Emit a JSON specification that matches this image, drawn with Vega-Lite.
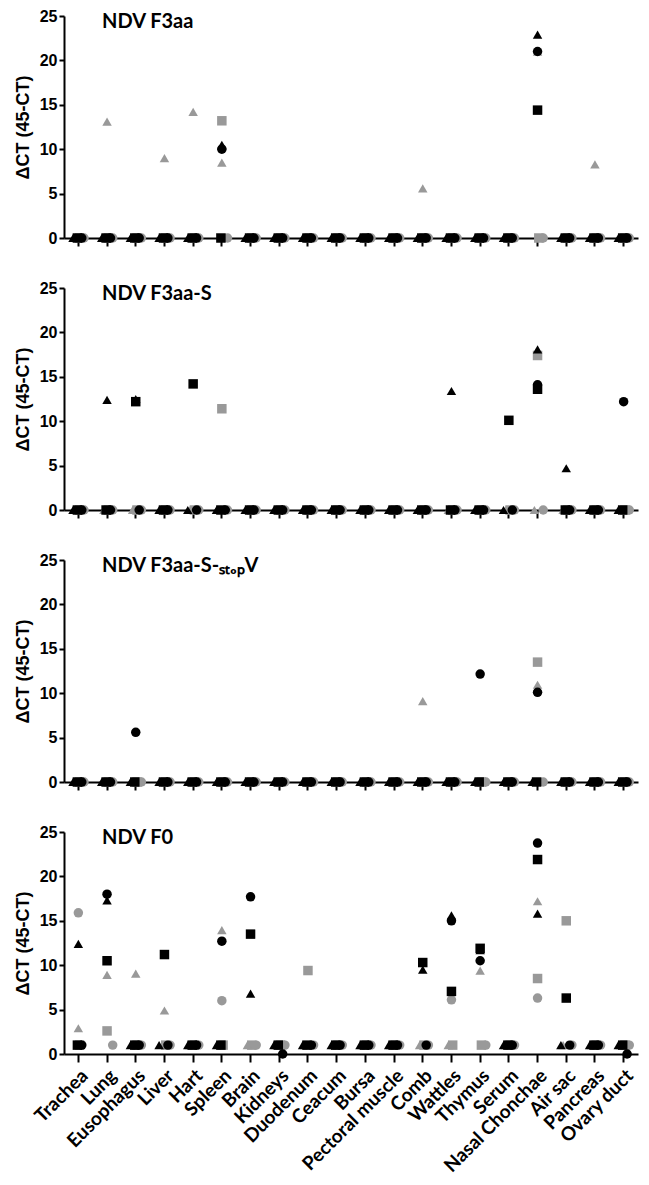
{
  "$schema": "https://vega.github.io/schema/vega-lite/v6.json",
  "padding": {"left": 14, "top": 8, "right": 5, "bottom": 5},
  "spacing": 33,
  "config": {
    "view": {"stroke": null},
    "axis": {"domainColor": "black", "tickColor": "black", "labelColor": "black", "titleColor": "black", "grid": false, "domainWidth": 2, "tickWidth": 2},
    "title": {"anchor": "start", "frame": "group", "offset": -24, "dx": 38, "baseline": "alphabetic", "fontSize": 20, "font": "Lato", "fontWeight": "bold", "color": "black"}
  },
  "datasets": {
    "ct": [
      {"panel": "A", "organ": "Trachea", "bc": 0, "bs": 0, "bt": 0, "gc": 0, "gs": 0, "gt": 0},
      {"panel": "A", "organ": "Lung", "bc": 0, "bs": 0, "bt": 0, "gc": 0, "gs": 0, "gt": 13.1},
      {"panel": "A", "organ": "Eusophagus", "bc": 0, "bs": 0, "bt": 0, "gc": 0, "gs": 0, "gt": 0},
      {"panel": "A", "organ": "Liver", "bc": 0, "bs": 0, "bt": 0, "gc": 0, "gs": 0, "gt": 9.0},
      {"panel": "A", "organ": "Hart", "bc": 0, "bs": 0, "bt": 0, "gc": 0, "gs": 0, "gt": 14.2},
      {"panel": "A", "organ": "Spleen", "bc": 10.0, "bs": 0, "bt": 10.5, "gc": 0, "gs": 13.2, "gt": 8.5},
      {"panel": "A", "organ": "Brain", "bc": 0, "bs": 0, "bt": 0, "gc": 0, "gs": 0, "gt": 0},
      {"panel": "A", "organ": "Kidneys", "bc": 0, "bs": 0, "bt": 0, "gc": 0, "gs": 0, "gt": 0},
      {"panel": "A", "organ": "Duodenum", "bc": 0, "bs": 0, "bt": 0, "gc": 0, "gs": 0, "gt": 0},
      {"panel": "A", "organ": "Ceacum", "bc": 0, "bs": 0, "bt": 0, "gc": 0, "gs": 0, "gt": 0},
      {"panel": "A", "organ": "Bursa", "bc": 0, "bs": 0, "bt": 0, "gc": 0, "gs": 0, "gt": 0},
      {"panel": "A", "organ": "Pectoral muscle", "bc": 0, "bs": 0, "bt": 0, "gc": 0, "gs": 0, "gt": 0},
      {"panel": "A", "organ": "Comb", "bc": 0, "bs": 0, "bt": 0, "gc": 0, "gs": 0, "gt": 5.6},
      {"panel": "A", "organ": "Wattles", "bc": 0, "bs": 0, "bt": 0, "gc": 0, "gs": 0, "gt": 0},
      {"panel": "A", "organ": "Thymus", "bc": 0, "bs": 0, "bt": 0, "gc": 0, "gs": 0, "gt": 0},
      {"panel": "A", "organ": "Serum", "bc": 0, "bs": 0, "bt": 0, "gc": 0, "gs": 0, "gt": 0},
      {"panel": "A", "organ": "Nasal Chonchae", "bc": 21.0, "bs": 14.4, "bt": 22.9, "gc": 0, "gs": 0, "gt": 21.0},
      {"panel": "A", "organ": "Air sac", "bc": 0, "bs": 0, "bt": 0, "gc": 0, "gs": 0, "gt": 0},
      {"panel": "A", "organ": "Pancreas", "bc": 0, "bs": 0, "bt": 0, "gc": 0, "gs": 0, "gt": 8.3},
      {"panel": "A", "organ": "Ovary duct", "bc": 0, "bs": 0, "bt": 0, "gc": 0, "gs": 0, "gt": 0},

      {"panel": "B", "organ": "Trachea", "bc": 0, "bs": 0, "bt": 0, "gc": 0, "gs": 0, "gt": 0},
      {"panel": "B", "organ": "Lung", "bc": 0, "bs": 0, "bt": 12.4, "gc": 0, "gs": 0, "gt": 0},
      {"panel": "B", "organ": "Eusophagus", "bc": 0, "bs": 12.2, "bt": 12.5, "gc": 0, "gs": 0, "gt": 0},
      {"panel": "B", "organ": "Liver", "bc": 0, "bs": 0, "bt": 0, "gc": 0, "gs": 0, "gt": 0},
      {"panel": "B", "organ": "Hart", "bc": 0, "bs": 14.2, "bt": 0, "gc": 0, "gs": 0, "gt": 0},
      {"panel": "B", "organ": "Spleen", "bc": 0, "bs": 0, "bt": 0, "gc": 0, "gs": 11.4, "gt": 0},
      {"panel": "B", "organ": "Brain", "bc": 0, "bs": 0, "bt": 0, "gc": 0, "gs": 0, "gt": 0},
      {"panel": "B", "organ": "Kidneys", "bc": 0, "bs": 0, "bt": 0, "gc": 0, "gs": 0, "gt": 0},
      {"panel": "B", "organ": "Duodenum", "bc": 0, "bs": 0, "bt": 0, "gc": 0, "gs": 0, "gt": 0},
      {"panel": "B", "organ": "Ceacum", "bc": 0, "bs": 0, "bt": 0, "gc": 0, "gs": 0, "gt": 0},
      {"panel": "B", "organ": "Bursa", "bc": 0, "bs": 0, "bt": 0, "gc": 0, "gs": 0, "gt": 0},
      {"panel": "B", "organ": "Pectoral muscle", "bc": 0, "bs": 0, "bt": 0, "gc": 0, "gs": 0, "gt": 0},
      {"panel": "B", "organ": "Comb", "bc": 0, "bs": 0, "bt": 0, "gc": 0, "gs": 0, "gt": 0},
      {"panel": "B", "organ": "Wattles", "bc": 0, "bs": 0, "bt": 13.4, "gc": 0, "gs": 0, "gt": 0},
      {"panel": "B", "organ": "Thymus", "bc": 0, "bs": 0, "bt": 0, "gc": 0, "gs": 0, "gt": 0},
      {"panel": "B", "organ": "Serum", "bc": 0, "bs": 10.1, "bt": 0, "gc": 0, "gs": 0, "gt": 0},
      {"panel": "B", "organ": "Nasal Chonchae", "bc": 14.1, "bs": 13.6, "bt": 18.1, "gc": 0, "gs": 17.4, "gt": 0},
      {"panel": "B", "organ": "Air sac", "bc": 0, "bs": 0, "bt": 4.7, "gc": 0, "gs": 0, "gt": 0},
      {"panel": "B", "organ": "Pancreas", "bc": 0, "bs": 0, "bt": 0, "gc": 0, "gs": 0, "gt": 0},
      {"panel": "B", "organ": "Ovary duct", "bc": 12.2, "bs": 0, "bt": 0, "gc": 0, "gs": 0, "gt": 0},

      {"panel": "C", "organ": "Trachea", "bc": 0, "bs": 0, "bt": 0, "gc": 0, "gs": 0, "gt": 0},
      {"panel": "C", "organ": "Lung", "bc": 0, "bs": 0, "bt": 0, "gc": 0, "gs": 0, "gt": 0},
      {"panel": "C", "organ": "Eusophagus", "bc": 5.6, "bs": 0, "bt": 0, "gc": 0, "gs": 0, "gt": 0},
      {"panel": "C", "organ": "Liver", "bc": 0, "bs": 0, "bt": 0, "gc": 0, "gs": 0, "gt": 0},
      {"panel": "C", "organ": "Hart", "bc": 0, "bs": 0, "bt": 0, "gc": 0, "gs": 0, "gt": 0},
      {"panel": "C", "organ": "Spleen", "bc": 0, "bs": 0, "bt": 0, "gc": 0, "gs": 0, "gt": 0},
      {"panel": "C", "organ": "Brain", "bc": 0, "bs": 0, "bt": 0, "gc": 0, "gs": 0, "gt": 0},
      {"panel": "C", "organ": "Kidneys", "bc": 0, "bs": 0, "bt": 0, "gc": 0, "gs": 0, "gt": 0},
      {"panel": "C", "organ": "Duodenum", "bc": 0, "bs": 0, "bt": 0, "gc": 0, "gs": 0, "gt": 0},
      {"panel": "C", "organ": "Ceacum", "bc": 0, "bs": 0, "bt": 0, "gc": 0, "gs": 0, "gt": 0},
      {"panel": "C", "organ": "Bursa", "bc": 0, "bs": 0, "bt": 0, "gc": 0, "gs": 0, "gt": 0},
      {"panel": "C", "organ": "Pectoral muscle", "bc": 0, "bs": 0, "bt": 0, "gc": 0, "gs": 0, "gt": 0},
      {"panel": "C", "organ": "Comb", "bc": 0, "bs": 0, "bt": 0, "gc": 0, "gs": 0, "gt": 9.1},
      {"panel": "C", "organ": "Wattles", "bc": 0, "bs": 0, "bt": 0, "gc": 0, "gs": 0, "gt": 0},
      {"panel": "C", "organ": "Thymus", "bc": 12.15, "bs": 0, "bt": 0, "gc": 0, "gs": 0, "gt": 0},
      {"panel": "C", "organ": "Serum", "bc": 0, "bs": 0, "bt": 0, "gc": 0, "gs": 0, "gt": 0},
      {"panel": "C", "organ": "Nasal Chonchae", "bc": 10.1, "bs": 0, "bt": 0, "gc": 0, "gs": 13.5, "gt": 10.95},
      {"panel": "C", "organ": "Air sac", "bc": 0, "bs": 0, "bt": 0, "gc": 0, "gs": 0, "gt": 0},
      {"panel": "C", "organ": "Pancreas", "bc": 0, "bs": 0, "bt": 0, "gc": 0, "gs": 0, "gt": 0},
      {"panel": "C", "organ": "Ovary duct", "bc": 0, "bs": 0, "bt": 0, "gc": 0, "gs": 0, "gt": 0},

      {"panel": "D", "organ": "Trachea", "bc": 1, "bs": 1, "bt": 12.4, "gc": 15.9, "gs": 1, "gt": 2.9},
      {"panel": "D", "organ": "Lung", "bc": 18.0, "bs": 10.5, "bt": 17.3, "gc": 1, "gs": 2.6, "gt": 8.9},
      {"panel": "D", "organ": "Eusophagus", "bc": 1, "bs": 1, "bt": 1, "gc": 1, "gs": 1, "gt": 9.05},
      {"panel": "D", "organ": "Liver", "bc": 1, "bs": 11.2, "bt": 1, "gc": 1, "gs": 1, "gt": 4.9},
      {"panel": "D", "organ": "Hart", "bc": 1, "bs": 1, "bt": 1, "gc": 1, "gs": 1, "gt": 1},
      {"panel": "D", "organ": "Spleen", "bc": 12.7, "bs": 1, "bt": 1, "gc": 6.0, "gs": 1, "gt": 13.95},
      {"panel": "D", "organ": "Brain", "bc": 17.7, "bs": 13.5, "bt": 6.8, "gc": 1, "gs": 1, "gt": 1},
      {"panel": "D", "organ": "Kidneys", "bc": 0, "bs": 1, "bt": 1, "gc": 1, "gs": 1, "gt": 1},
      {"panel": "D", "organ": "Duodenum", "bc": 1, "bs": 1, "bt": 1, "gc": 1, "gs": 9.4, "gt": 1},
      {"panel": "D", "organ": "Ceacum", "bc": 1, "bs": 1, "bt": 1, "gc": 1, "gs": 1, "gt": 1},
      {"panel": "D", "organ": "Bursa", "bc": 1, "bs": 1, "bt": 1, "gc": 1, "gs": 1, "gt": 1},
      {"panel": "D", "organ": "Pectoral muscle", "bc": 1, "bs": 1, "bt": 1, "gc": 1, "gs": 1, "gt": 1},
      {"panel": "D", "organ": "Comb", "bc": 1, "bs": 10.3, "bt": 9.5, "gc": 1, "gs": 1, "gt": 1},
      {"panel": "D", "organ": "Wattles", "bc": 15.0, "bs": 7.05, "bt": 15.6, "gc": 6.1, "gs": 1, "gt": 1},
      {"panel": "D", "organ": "Thymus", "bc": 10.5, "bs": 11.9, "bt": 11.7, "gc": 1, "gs": 1, "gt": 9.4},
      {"panel": "D", "organ": "Serum", "bc": 1, "bs": 1, "bt": 1, "gc": 1, "gs": 1, "gt": 1},
      {"panel": "D", "organ": "Nasal Chonchae", "bc": 23.75, "bs": 21.9, "bt": 15.8, "gc": 6.3, "gs": 8.5, "gt": 17.2},
      {"panel": "D", "organ": "Air sac", "bc": 1, "bs": 6.3, "bt": 1, "gc": 1, "gs": 15.0, "gt": 1},
      {"panel": "D", "organ": "Pancreas", "bc": 1, "bs": 1, "bt": 1, "gc": 1, "gs": 1, "gt": 1},
      {"panel": "D", "organ": "Ovary duct", "bc": 0, "bs": 1, "bt": 1, "gc": 1, "gs": 1, "gt": 1}
    ]
  },
  "vconcat": [
    {
      "width": 574, "height": 222,
      "title": {"text": "NDV F3aa"},
      "data": {"name": "ct"},
      "transform": [{"filter": "datum.panel === 'A'"}, {"fold": ["gc", "gs", "gt", "bc", "bs", "bt"], "as": ["animal", "dct"]}],
      "encoding": {
        "x": {"field": "organ", "type": "nominal", "sort": null, "scale": {"type": "band", "paddingInner": 0, "paddingOuter": 0, "domain": ["Trachea", "Lung", "Eusophagus", "Liver", "Hart", "Spleen", "Brain", "Kidneys", "Duodenum", "Ceacum", "Bursa", "Pectoral muscle", "Comb", "Wattles", "Thymus", "Serum", "Nasal Chonchae", "Air sac", "Pancreas", "Ovary duct"]}, "axis": {"title": null, "labels": false, "tickSize": 8}},
        "y": {"field": "dct", "type": "quantitative", "scale": {"domain": [0, 25]}, "axis": {"values": [0, 5, 10, 15, 20, 25], "title": "ΔCT (45-CT)", "titleFont": "Liberation Sans", "titleFontSize": 18, "titleFontWeight": "bold", "titlePadding": 7, "labelFont": "Liberation Sans", "labelFontSize": 16, "labelFontWeight": "bold", "tickSize": 5}},
        "shape": {"field": "animal", "type": "nominal", "scale": {"domain": ["bc", "bs", "bt", "gc", "gs", "gt"], "range": ["circle", "square", "triangle-up", "circle", "square", "triangle-up"]}, "legend": null},
        "color": {"field": "animal", "type": "nominal", "scale": {"domain": ["bc", "bs", "bt", "gc", "gs", "gt"], "range": ["#000000", "#000000", "#000000", "#999999", "#999999", "#999999"]}, "legend": null}
      },
      "layer": [
        {"transform": [{"filter": "datum.dct > 1"}], "mark": {"type": "point", "filled": true, "size": 90, "opacity": 1, "strokeWidth": 0}},
        {"transform": [{"filter": "datum.dct <= 1"}], "mark": {"type": "point", "filled": true, "size": 90, "opacity": 1, "strokeWidth": 0},
         "encoding": {"xOffset": {"field": "animal", "type": "nominal", "scale": {"domain": ["bt", "gt", "bs", "gs", "bc", "gc"], "range": [9, 20], "paddingOuter": 0, "paddingInner": 0}}}}
      ]
    },
    {
      "width": 574, "height": 222,
      "title": {"text": "NDV F3aa-S"},
      "data": {"name": "ct"},
      "transform": [{"filter": "datum.panel === 'B'"}, {"fold": ["gc", "gs", "gt", "bc", "bs", "bt"], "as": ["animal", "dct"]}],
      "encoding": {
        "x": {"field": "organ", "type": "nominal", "sort": null, "scale": {"type": "band", "paddingInner": 0, "paddingOuter": 0, "domain": ["Trachea", "Lung", "Eusophagus", "Liver", "Hart", "Spleen", "Brain", "Kidneys", "Duodenum", "Ceacum", "Bursa", "Pectoral muscle", "Comb", "Wattles", "Thymus", "Serum", "Nasal Chonchae", "Air sac", "Pancreas", "Ovary duct"]}, "axis": {"title": null, "labels": false, "tickSize": 8}},
        "y": {"field": "dct", "type": "quantitative", "scale": {"domain": [0, 25]}, "axis": {"values": [0, 5, 10, 15, 20, 25], "title": "ΔCT (45-CT)", "titleFont": "Liberation Sans", "titleFontSize": 18, "titleFontWeight": "bold", "titlePadding": 7, "labelFont": "Liberation Sans", "labelFontSize": 16, "labelFontWeight": "bold", "tickSize": 5}},
        "shape": {"field": "animal", "type": "nominal", "scale": {"domain": ["bc", "bs", "bt", "gc", "gs", "gt"], "range": ["circle", "square", "triangle-up", "circle", "square", "triangle-up"]}, "legend": null},
        "color": {"field": "animal", "type": "nominal", "scale": {"domain": ["bc", "bs", "bt", "gc", "gs", "gt"], "range": ["#000000", "#000000", "#000000", "#999999", "#999999", "#999999"]}, "legend": null}
      },
      "layer": [
        {"transform": [{"filter": "datum.dct > 1"}], "mark": {"type": "point", "filled": true, "size": 90, "opacity": 1, "strokeWidth": 0}},
        {"transform": [{"filter": "datum.dct <= 1"}], "mark": {"type": "point", "filled": true, "size": 90, "opacity": 1, "strokeWidth": 0},
         "encoding": {"xOffset": {"field": "animal", "type": "nominal", "scale": {"domain": ["bt", "gt", "bs", "gs", "bc", "gc"], "range": [9, 20], "paddingOuter": 0, "paddingInner": 0}}}}
      ]
    },
    {
      "width": 574, "height": 222,
      "title": {"text": "NDV F3aa-S-ₛₜₒₚV"},
      "data": {"name": "ct"},
      "transform": [{"filter": "datum.panel === 'C'"}, {"fold": ["gc", "gs", "gt", "bc", "bs", "bt"], "as": ["animal", "dct"]}],
      "encoding": {
        "x": {"field": "organ", "type": "nominal", "sort": null, "scale": {"type": "band", "paddingInner": 0, "paddingOuter": 0, "domain": ["Trachea", "Lung", "Eusophagus", "Liver", "Hart", "Spleen", "Brain", "Kidneys", "Duodenum", "Ceacum", "Bursa", "Pectoral muscle", "Comb", "Wattles", "Thymus", "Serum", "Nasal Chonchae", "Air sac", "Pancreas", "Ovary duct"]}, "axis": {"title": null, "labels": false, "tickSize": 8}},
        "y": {"field": "dct", "type": "quantitative", "scale": {"domain": [0, 25]}, "axis": {"values": [0, 5, 10, 15, 20, 25], "title": "ΔCT (45-CT)", "titleFont": "Liberation Sans", "titleFontSize": 18, "titleFontWeight": "bold", "titlePadding": 7, "labelFont": "Liberation Sans", "labelFontSize": 16, "labelFontWeight": "bold", "tickSize": 5}},
        "shape": {"field": "animal", "type": "nominal", "scale": {"domain": ["bc", "bs", "bt", "gc", "gs", "gt"], "range": ["circle", "square", "triangle-up", "circle", "square", "triangle-up"]}, "legend": null},
        "color": {"field": "animal", "type": "nominal", "scale": {"domain": ["bc", "bs", "bt", "gc", "gs", "gt"], "range": ["#000000", "#000000", "#000000", "#999999", "#999999", "#999999"]}, "legend": null}
      },
      "layer": [
        {"transform": [{"filter": "datum.dct > 1"}], "mark": {"type": "point", "filled": true, "size": 90, "opacity": 1, "strokeWidth": 0}},
        {"transform": [{"filter": "datum.dct <= 1"}], "mark": {"type": "point", "filled": true, "size": 90, "opacity": 1, "strokeWidth": 0},
         "encoding": {"xOffset": {"field": "animal", "type": "nominal", "scale": {"domain": ["bt", "gt", "bs", "gs", "bc", "gc"], "range": [9, 20], "paddingOuter": 0, "paddingInner": 0}}}}
      ]
    },
    {
      "width": 574, "height": 222,
      "title": {"text": "NDV F0"},
      "data": {"name": "ct"},
      "transform": [{"filter": "datum.panel === 'D'"}, {"fold": ["gc", "gs", "gt", "bc", "bs", "bt"], "as": ["animal", "dct"]}],
      "encoding": {
        "x": {"field": "organ", "type": "nominal", "sort": null, "scale": {"type": "band", "paddingInner": 0, "paddingOuter": 0, "domain": ["Trachea", "Lung", "Eusophagus", "Liver", "Hart", "Spleen", "Brain", "Kidneys", "Duodenum", "Ceacum", "Bursa", "Pectoral muscle", "Comb", "Wattles", "Thymus", "Serum", "Nasal Chonchae", "Air sac", "Pancreas", "Ovary duct"]}, "axis": {"title": null, "labelAngle": -45, "labelFont": "Lato", "labelFontSize": 19, "labelFontWeight": "bold", "labelPadding": 4, "tickSize": 8}},
        "y": {"field": "dct", "type": "quantitative", "scale": {"domain": [0, 25]}, "axis": {"values": [0, 5, 10, 15, 20, 25], "title": "ΔCT (45-CT)", "titleFont": "Liberation Sans", "titleFontSize": 18, "titleFontWeight": "bold", "titlePadding": 7, "labelFont": "Liberation Sans", "labelFontSize": 16, "labelFontWeight": "bold", "tickSize": 5}},
        "shape": {"field": "animal", "type": "nominal", "scale": {"domain": ["bc", "bs", "bt", "gc", "gs", "gt"], "range": ["circle", "square", "triangle-up", "circle", "square", "triangle-up"]}, "legend": null},
        "color": {"field": "animal", "type": "nominal", "scale": {"domain": ["bc", "bs", "bt", "gc", "gs", "gt"], "range": ["#000000", "#000000", "#000000", "#999999", "#999999", "#999999"]}, "legend": null}
      },
      "layer": [
        {"transform": [{"filter": "datum.dct > 1"}], "mark": {"type": "point", "filled": true, "size": 90, "opacity": 1, "strokeWidth": 0}},
        {"transform": [{"filter": "datum.dct <= 1"}], "mark": {"type": "point", "filled": true, "size": 90, "opacity": 1, "strokeWidth": 0},
         "encoding": {"xOffset": {"field": "animal", "type": "nominal", "scale": {"domain": ["bt", "gt", "bs", "gs", "bc", "gc"], "range": [9, 20], "paddingOuter": 0, "paddingInner": 0}}}}
      ]
    }
  ]
}
